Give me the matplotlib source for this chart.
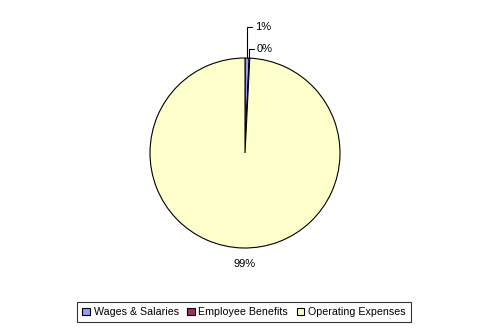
import matplotlib
matplotlib.use("Agg")
import matplotlib.pyplot as plt
import numpy as np

categories = ["Wages & Salaries", "Employee Benefits", "Operating Expenses"]
values = [0.7, 0.1, 99.2]
labels = ["1%", "0%", "99%"]
colors = ["#9999FF", "#993366", "#FFFFCC"]

plt.rcParams['font.family'] = ['Liberation Sans', 'DejaVu Sans']

W, H = 491, 333
fig = plt.figure(figsize=(W / 100, H / 100), dpi=100)
cx, cy, r = 245, 153, 95
ax = fig.add_axes([(cx - r) / W, (H - cy - r) / H, 2 * r / W, 2 * r / H])
wedges, _ = ax.pie(values, colors=colors, startangle=90, counterclock=False,
                   radius=1, wedgeprops=dict(edgecolor="black", linewidth=0.8))
ax.set_xlim(-1, 1)
ax.set_ylim(-1, 1)
ax.set_aspect("equal")
ax.axis("off")

total = sum(values)
text_y = [1.33, 1.09]
start = 90.0
for i, v in enumerate(values):
    ang = start - v / total * 360 / 2
    start -= v / total * 360
    x, y = np.cos(np.radians(ang)), np.sin(np.radians(ang))
    if i < 2:
        ax.annotate(labels[i], xy=(x, y), xytext=(x + 0.08, text_y[i]),
                    fontsize=8, va="center", ha="left",
                    arrowprops=dict(arrowstyle="-", color="black", lw=0.8,
                                    connectionstyle="angle,angleA=0,angleB=90,rad=0",
                                    shrinkA=0, shrinkB=0),
                    annotation_clip=False)
    else:
        ax.text(0, -1.17, labels[i], fontsize=8, ha="center", va="center")

leg = fig.legend(wedges, categories, loc="center", bbox_to_anchor=(244 / W, 1 - 312 / H),
                 ncol=3, fontsize=7.7, frameon=True, fancybox=False, handlelength=0.7,
                 handleheight=0.7, handletextpad=0.35, columnspacing=0.8,
                 borderpad=0.5, edgecolor="black")
leg.get_frame().set_linewidth(0.8)

fig.savefig("out.png", dpi=100)
